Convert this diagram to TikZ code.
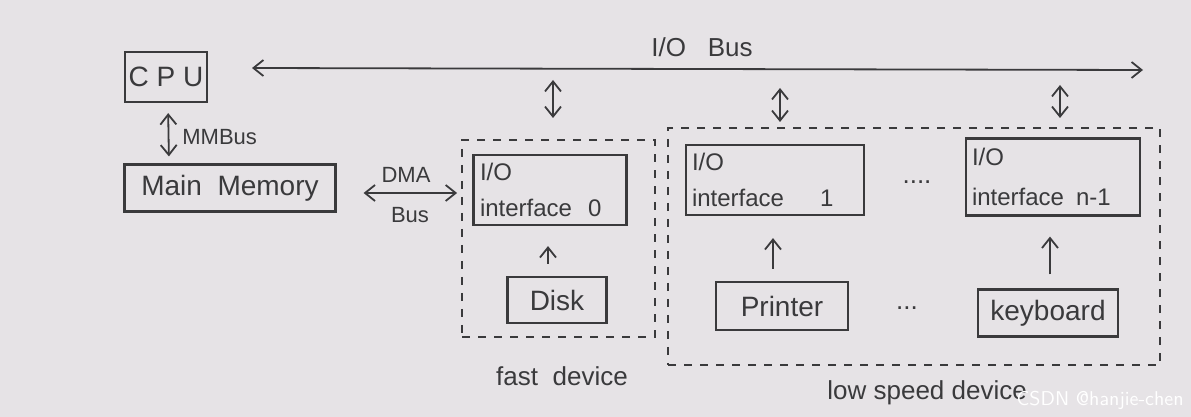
\documentclass[tikz,border=0pt]{standalone}
\usepackage{fontspec}
\setmainfont{Liberation Sans}
\usetikzlibrary{arrows.meta}
\definecolor{paper}{HTML}{E6E3E6}
\definecolor{ink}{HTML}{3A3A3C}
\begin{document}
\begin{tikzpicture}[x=0.5pt,y=-0.5pt,
  box/.style={draw=ink,line width=1.1pt,inner sep=0pt,text=ink},
  dbox/.style={draw=ink,line width=0.9pt,dash pattern=on 4pt off 4pt,inner sep=0pt},
  ifbox/.style={box,align=left,font=\fontsize{12}{15}\selectfont},
  dbl/.style={draw=ink,line width=0.9pt,{Straight Barb[length=5pt,width=8pt]}-{Straight Barb[length=5pt,width=8pt]}},
  up/.style={draw=ink,line width=0.9pt,-{Straight Barb[length=5pt,width=8pt]}},
  lbl/.style={text=ink,inner sep=1pt}]
\fill[paper] (0,0) rectangle (1191,417);
\useasboundingbox (0,0) rectangle (1191,417);
% boxes
\node[box,minimum width=41pt,minimum height=25pt,font=\fontsize{14}{16}\selectfont] (cpu) at (166,77) {C P U};
\node[box,minimum width=105.5pt,minimum height=23.5pt,font=\fontsize{14}{16}\selectfont] (mm) at (230,188) {Main\ \ Memory};
\node[dbox,minimum width=96.5pt,minimum height=98.5pt] (fast) at (558.5,238.5) {};
\node[dbox,minimum width=246pt,minimum height=118.5pt] (low) at (914,246.5) {};
\node[ifbox,minimum width=76.5pt,minimum height=35pt,text width=70pt] (if0) at (550,190) {I/O\\[3pt]interface\hspace{8pt}0};
\node[box,minimum width=49.5pt,minimum height=23pt,font=\fontsize{14}{16}\selectfont] (disk) at (557,300) {Disk};
\node[ifbox,minimum width=89pt,minimum height=35pt,text width=83pt] (if1) at (775,180) {I/O\\[3pt]interface\hspace{18pt}1};
\node[ifbox,minimum width=87pt,minimum height=38.5pt,text width=81pt] (ifn) at (1053,177) {I/O\\[5pt]interface\hspace{6pt}n-1};
\node[box,minimum width=66pt,minimum height=24pt,font=\fontsize{14}{16}\selectfont] (prn) at (782,306) {Printer};
\node[box,minimum width=70pt,minimum height=23.5pt,font=\fontsize{14}{16}\selectfont] (kbd) at (1048,313) {keyboard};
% labels
\node[lbl,font=\fontsize{13}{15}\selectfont] (iobl) at (702,47) {I/O\ \ \ Bus};
\node[lbl,font=\fontsize{11}{13}\selectfont,anchor=west] (mmbl) at (180,137) {MMBus};
\node[lbl,font=\fontsize{11}{13}\selectfont] (dmal) at (406,175) {DMA};
\node[lbl,font=\fontsize{11}{13}\selectfont] (busl) at (410,215) {Bus};
\node[lbl,font=\fontsize{13}{15}\selectfont] (fastl) at (562,376) {fast\ \ device};
\node[lbl,font=\fontsize{13}{15}\selectfont,anchor=west] (lowl) at (825,393) {low speed device};
\node[lbl,font=\fontsize{13}{15}\selectfont] (dots1) at (917,182) {....};
\node[lbl,font=\fontsize{13}{15}\selectfont] (dots2) at (907,308) {...};
\node[lbl,font=\sffamily\fontsize{10}{12}\selectfont,text=white,anchor=east] (wm) at (1186,400) {CSDN @hanjie-chen};
% I/O bus
\coordinate (busL) at (252,68);
\coordinate (busR) at (1143,70);
\draw[dbl] (busL) -- (busR);
\coordinate (a0t) at (553,80); \coordinate (a0b) at (553,118);
\coordinate (a1t) at (780,88); \coordinate (a1b) at (780,122);
\coordinate (a2t) at (1060,85); \coordinate (a2b) at (1060,118);
\draw[dbl] (a0t) -- (a0b);
\draw[dbl] (a1t) -- (a1b);
\draw[dbl] (a2t) -- (a2b);
% MM bus
\draw[dbl,shorten <=5pt,shorten >=3.5pt] ([xshift=1pt]cpu.south) -- ([xshift=-30.5pt]mm.north);
% DMA bus
\draw[dbl,shorten <=13.5pt,shorten >=2pt] (mm.east |- 0,193) -- (fast.west |- 0,193);
% device to interface
\draw[up,shorten <=6pt,shorten >=10pt] ([xshift=-4.5pt]disk.north) -- ([xshift=-1pt]if0.south);
\draw[up,shorten <=6pt,shorten >=11pt] ([xshift=-4.5pt]prn.north) -- ([xshift=-1pt]if1.south);
\draw[up,shorten <=7pt,shorten >=10pt] ([xshift=1pt]kbd.north) -- ([xshift=-1.5pt]ifn.south);
\end{tikzpicture}
\end{document}
